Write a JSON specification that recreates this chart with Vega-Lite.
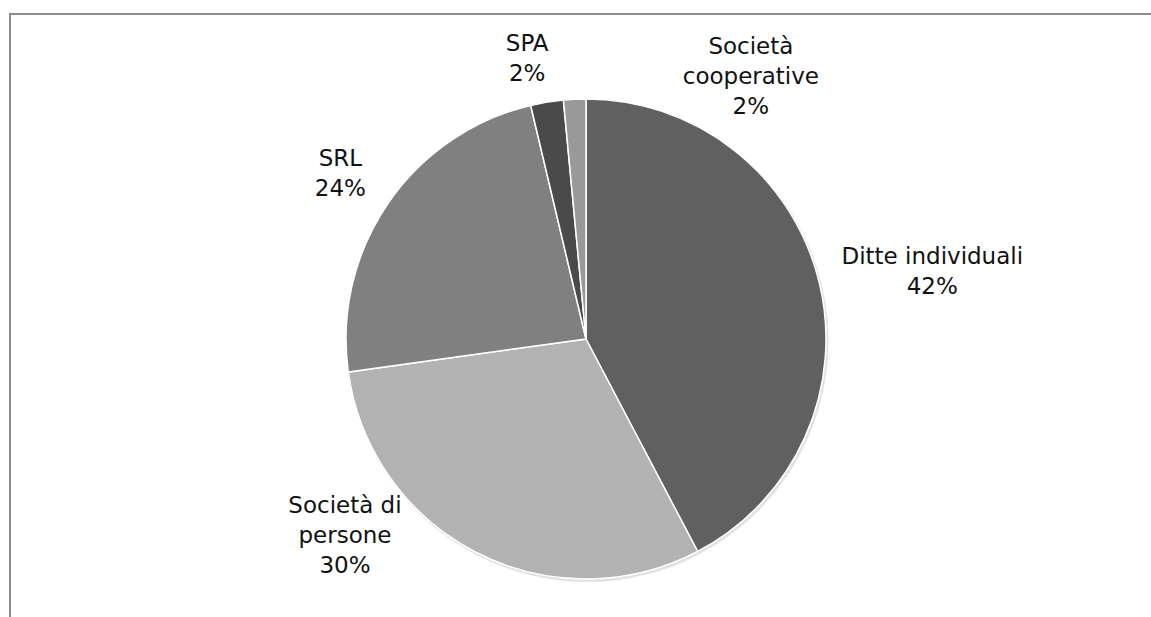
{
  "$schema": "https://vega.github.io/schema/vega-lite/v6.json",
  "description": "Imprese per forma giuridica",
  "width": 1170,
  "height": 630,
  "autosize": "none",
  "padding": {"left": 10, "top": 14, "right": 0, "bottom": 0},
  "data": {
    "values": [
      {"name": "Ditte individuali", "pct": 42.3, "ord": 1, "label": "Ditte individuali\n42%"},
      {"name": "Società di persone", "pct": 30.5, "ord": 2, "label": "Società di\npersone\n30%"},
      {"name": "SRL", "pct": 23.5, "ord": 3, "label": "SRL\n24%"},
      {"name": "SPA", "pct": 2.2, "ord": 4, "label": "SPA\n2%"},
      {"name": "Società cooperative", "pct": 1.5, "ord": 5, "label": "Società\ncooperative\n2%"}
    ]
  },
  "layer": [
    {
      "data": {"values": [{"frame": 1}]},
      "mark": {"type": "rect", "fill": null, "stroke": "#8c8c8c", "strokeWidth": 2},
      "encoding": {}
    },
    {
      "mark": {"type": "arc", "outerRadius": 241, "x": 577.5, "y": 327, "color": "#d6d6d6", "opacity": 0.7},
      "encoding": {
        "theta": {"field": "pct", "type": "quantitative", "stack": true},
        "order": {"field": "ord"}
      }
    },
    {
      "mark": {"type": "arc", "outerRadius": 240, "x": 576, "y": 325, "stroke": "#ffffff", "strokeWidth": 1.5},
      "encoding": {
        "theta": {"field": "pct", "type": "quantitative", "stack": true},
        "order": {"field": "ord"},
        "color": {
          "field": "name",
          "type": "nominal",
          "legend": null,
          "scale": {
            "domain": ["Ditte individuali", "Società di persone", "SRL", "SPA", "Società cooperative"],
            "range": ["#606060", "#b2b2b2", "#808080", "#4a4a4a", "#999999"]
          }
        }
      }
    },
    {
      "mark": {
        "type": "text",
        "radius": 300,
        "x": 576,
        "y": 325,
        "font": "DejaVu Sans",
        "fontSize": 23,
        "lineHeight": 30,
        "lineBreak": "\n",
        "align": "center",
        "baseline": "middle",
        "color": "#111111",
        "dx": {"expr": "datum.name === 'Ditte individuali' ? 55 : datum.name === 'Società di persone' ? -104 : datum.name === 'SRL' ? 2 : datum.name === 'SPA' ? -10 : 179"},
        "dy": {"expr": "datum.name === 'Ditte individuali' ? -10 : datum.name === 'Società di persone' ? -100 : datum.name === 'SRL' ? -11 : datum.name === 'SPA' ? 1 : 8"}
      },
      "encoding": {
        "theta": {"field": "pct", "type": "quantitative", "stack": true},
        "order": {"field": "ord"},
        "text": {"field": "label", "type": "nominal"}
      }
    }
  ],
  "config": {
    "background": "#ffffff"
  }
}
